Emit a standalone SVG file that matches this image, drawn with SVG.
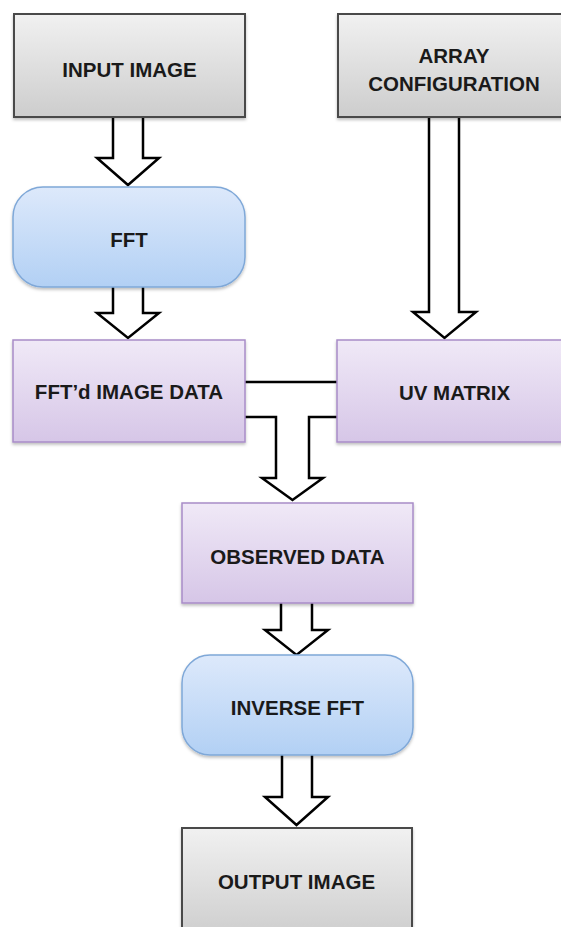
<svg xmlns="http://www.w3.org/2000/svg" width="561" height="927" viewBox="0 0 561 927">
<style>
.lbl{font-family:"Liberation Sans",Arial,sans-serif;font-weight:bold;font-size:20.5px;fill:#1a1a1a;text-anchor:middle}
.gray{fill:url(#gGray);stroke:#4a4a4a;stroke-width:2}
.blue{fill:url(#gBlue);stroke:#7fa8d8;stroke-width:1.5}
.purple{fill:url(#gPurple);stroke:#a88cc8;stroke-width:1.5}
.arrow{fill:#fff;stroke:#000;stroke-width:2.5;stroke-linejoin:miter}
.line{fill:none;stroke:#000;stroke-width:2.5}
</style>
<defs>
<linearGradient id="gGray" x1="0" y1="0" x2="0" y2="1"><stop offset="0" stop-color="#f1f1f1"/><stop offset="1" stop-color="#cdcdcd"/></linearGradient>
<linearGradient id="gBlue" x1="0" y1="0" x2="0" y2="1"><stop offset="0" stop-color="#dde9fb"/><stop offset="1" stop-color="#b2d0f4"/></linearGradient>
<linearGradient id="gPurple" x1="0" y1="0" x2="0" y2="1"><stop offset="0" stop-color="#f0e9f7"/><stop offset="1" stop-color="#d6c6e7"/></linearGradient>
<filter id="sh" x="-10%" y="-10%" width="120%" height="130%"><feDropShadow dx="0" dy="2" stdDeviation="1.5" flood-color="#000" flood-opacity="0.25"/></filter>
</defs>
<rect width="561" height="927" fill="#fff"/>

<g id="connectors">
<path class="arrow" d="M113,117 V158 H97 L128,185 L159,158 H143 V117"/>
<path class="arrow" d="M113,287 V313 H97 L128,338 L159,313 H143 V287"/>
<path class="arrow" d="M429,117 V312 H413 L444.5,338 L476,312 H459 V117"/>
<line class="line" x1="245" y1="382" x2="337" y2="382"/>
<path class="arrow" d="M245,417 H276 V478 H262 L292.5,500 L323,478 H309 V417 H337"/>
<path class="arrow" d="M281,603 V630 H265 L296.5,655 L328,630 H312 V603"/>
<path class="arrow" d="M282,755 V797 H265 L296.5,825 L328,797 H312 V755"/>
</g>

<g id="input-image">
<rect class="gray" x="14" y="14" width="231" height="103" filter="url(#sh)"/>
<text class="lbl" x="129.5" y="77">INPUT IMAGE</text>
</g>
<g id="array-configuration">
<rect class="gray" x="338" y="14" width="235" height="103" filter="url(#sh)"/>
<text class="lbl" x="454" y="63">ARRAY</text>
<text class="lbl" x="454" y="91">CONFIGURATION</text>
</g>
<g id="fft">
<rect class="blue" x="13" y="187" width="232" height="100" rx="30" ry="30" filter="url(#sh)"/>
<text class="lbl" x="129" y="247">FFT</text>
</g>
<g id="fftd-image-data">
<rect class="purple" x="13" y="340" width="232" height="102" filter="url(#sh)"/>
<text class="lbl" x="129" y="399">FFT’d IMAGE DATA</text>
</g>
<g id="uv-matrix">
<rect class="purple" x="337" y="340" width="236" height="102" filter="url(#sh)"/>
<text class="lbl" x="454.5" y="400">UV MATRIX</text>
</g>
<g id="observed-data">
<rect class="purple" x="182" y="503" width="231" height="100" filter="url(#sh)"/>
<text class="lbl" x="297.5" y="564">OBSERVED DATA</text>
</g>
<g id="inverse-fft">
<rect class="blue" x="182" y="655" width="231" height="100" rx="28" ry="28" filter="url(#sh)"/>
<text class="lbl" x="297.5" y="715">INVERSE FFT</text>
</g>
<g id="output-image">
<rect class="gray" x="182" y="828" width="230" height="110" filter="url(#sh)"/>
<text class="lbl" x="296.5" y="889">OUTPUT IMAGE</text>
</g>
</svg>
